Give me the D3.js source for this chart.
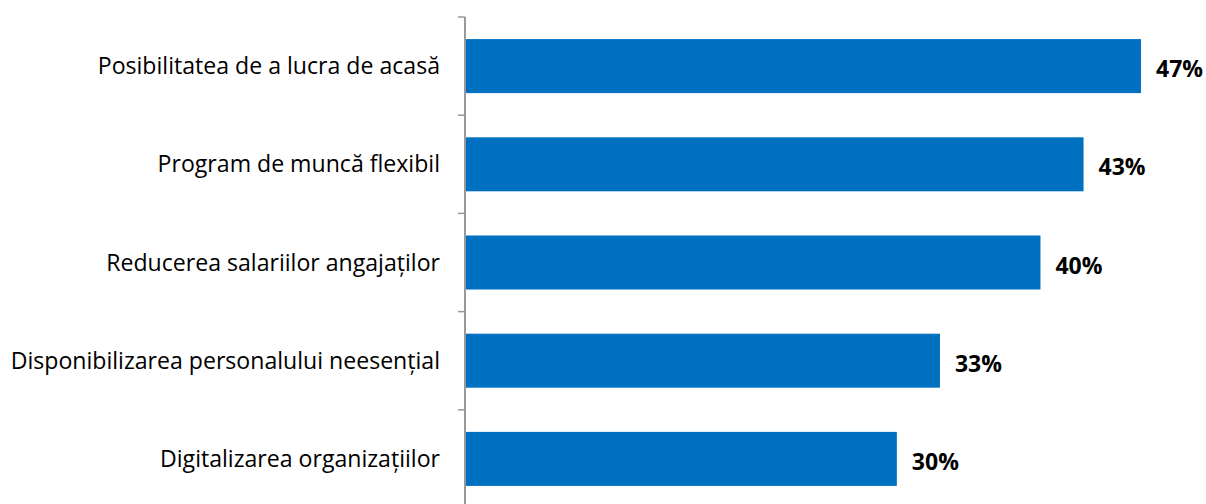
<!DOCTYPE html>
<html><head><meta charset="utf-8">
<script src="https://cdn.jsdelivr.net/npm/d3@7"></script>
<style>body{margin:0;background:#fff}svg{display:block}</style>
</head><body>
<svg id="c" width="1206" height="504"></svg>
<script>
const categories = ["Posibilitatea de a lucra de acasă","Program de muncă flexibil","Reducerea salariilor angajaților","Disponibilizarea personalului neesențial","Digitalizarea organizațiilor"];
const values = [47, 43, 40, 33, 30];
const valueLabels = ["47%","43%","40%","33%","30%"];

(function(){
const svg = d3.select("#c");
const x0 = 465, yTop = 17, yBottom = 508;
const x = d3.scaleLinear().domain([0, 47]).range([x0 + 1, 1141]);
const y = d3.scaleBand().domain(categories).range([yTop, yBottom]).paddingInner(0.45).paddingOuter(0.225);
const font = "'Open Sans', sans-serif";

svg.selectAll("rect.bar").data(values).enter().append("rect")
  .attr("x", x(0)).attr("y", (d,i)=>y(categories[i]))
  .attr("width", d=>x(d)-x(0)).attr("height", y.bandwidth())
  .attr("fill", "#0070C0");

const ax = svg.append("g").attr("transform", `translate(${x0},0)`);
ax.append("line").attr("x1",0).attr("x2",0).attr("y1",yTop).attr("y2",yBottom).attr("stroke","#999").attr("stroke-width",2);
const step = y.step();
const ticks = d3.range(categories.length + 1).map(i => yTop + i*step);
ax.selectAll("line.t").data(ticks).enter().append("line")
  .attr("x1",-7).attr("x2",0).attr("y1",d=>d).attr("y2",d=>d).attr("stroke","#999").attr("stroke-width",1.5);

svg.selectAll("text.cat").data(categories).enter().append("text")
  .attr("x", 440).attr("y", d=>y(d)+y.bandwidth()/2)
  .attr("dy","0.35em").attr("text-anchor","end")
  .attr("font-family", font).attr("font-size", 23.1).attr("fill","#000")
  .text(d=>d);

svg.selectAll("text.val").data(values).enter().append("text")
  .attr("x", d=>x(d)+15).attr("y", (d,i)=>y(categories[i])+y.bandwidth()/2+3)
  .attr("dy","0.35em")
  .attr("font-family", font).attr("font-weight","bold").attr("font-size", 23).attr("fill","#000")
  .text((d,i)=>valueLabels[i]);
})();
</script>
</body></html>
